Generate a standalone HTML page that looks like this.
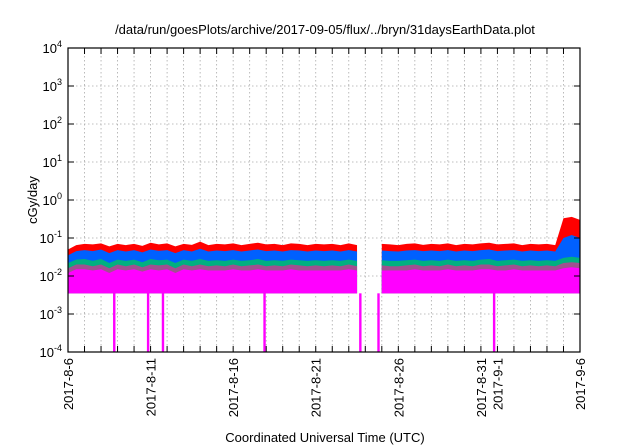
<!DOCTYPE html>
<html><head><meta charset="utf-8"><style>
body{margin:0;background:#fff}
svg{display:block;font-family:"Liberation Sans",sans-serif}
</style></head><body>
<svg id="chart" width="640" height="448" viewBox="0 0 640 448">
<g id="grid"></g>
<g id="series"></g>
<g id="axes"></g>
<text x="325" y="34" text-anchor="middle" font-size="13">/data/run/goesPlots/archive/2017-09-05/flux/../bryn/31daysEarthData.plot</text>
<text x="325" y="442" text-anchor="middle" font-size="13">Coordinated Universal Time (UTC)</text>
<text transform="translate(37,200) rotate(-90)" text-anchor="middle" font-size="13">cGy/day</text>
</svg>
<script>
// day offsets from 2017-8-6, step 0.5 day; null = data gap
const redTop = [0.05,0.065,0.07,0.068,0.072,0.06,0.07,0.065,0.07,0.062,0.075,0.068,0.072,0.06,0.07,0.066,0.08,0.065,0.07,0.068,0.072,0.065,0.07,0.075,0.068,0.07,0.065,0.072,0.07,0.065,0.07,0.068,0.07,0.065,0.072,0.065,null,null,0.07,0.068,0.065,0.07,0.072,0.066,0.07,0.068,0.072,0.065,0.07,0.068,0.072,0.075,0.068,0.07,0.072,0.065,0.07,0.068,0.07,0.065,0.33,0.36,0.3];
const blueTop = [0.035,0.045,0.048,0.045,0.05,0.04,0.048,0.044,0.048,0.042,0.05,0.046,0.048,0.04,0.048,0.044,0.052,0.044,0.047,0.045,0.048,0.044,0.047,0.05,0.045,0.047,0.044,0.048,0.047,0.044,0.047,0.045,0.047,0.044,0.048,0.044,null,null,0.047,0.045,0.044,0.047,0.048,0.045,0.047,0.045,0.048,0.044,0.047,0.045,0.048,0.05,0.045,0.047,0.048,0.044,0.047,0.045,0.047,0.044,0.1,0.12,0.1];
const greenTop = [0.022,0.027,0.028,0.025,0.028,0.022,0.027,0.025,0.027,0.023,0.028,0.026,0.027,0.022,0.027,0.025,0.028,0.025,0.026,0.025,0.027,0.025,0.026,0.028,0.025,0.026,0.025,0.027,0.026,0.025,0.026,0.025,0.026,0.025,0.027,0.025,null,null,0.026,0.025,0.025,0.026,0.027,0.025,0.026,0.025,0.027,0.025,0.026,0.025,0.027,0.028,0.025,0.026,0.027,0.025,0.026,0.025,0.026,0.025,0.03,0.032,0.03];
const purpleTop = [0.016,0.02,0.02,0.018,0.02,0.016,0.02,0.018,0.02,0.017,0.02,0.019,0.02,0.016,0.02,0.018,0.02,0.018,0.019,0.018,0.02,0.018,0.019,0.02,0.018,0.019,0.018,0.02,0.019,0.018,0.019,0.018,0.019,0.018,0.02,0.018,null,null,0.019,0.018,0.018,0.019,0.02,0.018,0.019,0.018,0.02,0.018,0.019,0.018,0.02,0.02,0.018,0.019,0.02,0.018,0.019,0.018,0.019,0.018,0.022,0.023,0.022];
const magentaTop = [0.012,0.015,0.015,0.014,0.015,0.012,0.015,0.014,0.015,0.013,0.015,0.014,0.015,0.012,0.015,0.014,0.015,0.014,0.014,0.014,0.015,0.014,0.014,0.015,0.014,0.014,0.014,0.015,0.014,0.014,0.014,0.014,0.014,0.014,0.015,0.014,null,null,0.014,0.014,0.014,0.014,0.015,0.014,0.014,0.014,0.015,0.014,0.014,0.014,0.015,0.015,0.014,0.014,0.015,0.014,0.014,0.014,0.014,0.014,0.016,0.017,0.016];
const magentaBottom = 0.0035;
const spikeDays = [2.8,4.85,5.75,11.9,17.7,18.8,25.8];
const xTickLabels = ["2017-8-6","2017-8-11","2017-8-16","2017-8-21","2017-8-26","2017-8-31","2017-9-1","2017-9-6"];
const xTickDays = [0,5,10,15,20,25,26,31];
const yExponents = [-4,-3,-2,-1,0,1,2,3,4];

const L=68,R=580,T=48,B=352,NS='http://www.w3.org/2000/svg';
const x=d=>L+d/31*(R-L);
const y=v=>B-(Math.log10(v)+4)/8*(B-T);
function el(tag,attrs,parent){const e=document.createElementNS(NS,tag);for(const k in attrs)e.setAttribute(k,attrs[k]);parent.appendChild(e);return e;}
const grid=document.getElementById('grid'),ser=document.getElementById('series'),ax=document.getElementById('axes');
for(let d=1;d<31;d++){const g=el('line',{x1:x(d),x2:x(d),y1:T,y2:B,stroke:'#aaa','stroke-width':0.8,'stroke-dasharray':'1.5,2.5'},grid);

}
yExponents.forEach(e=>{if(e>-4&&e<4){const g=el('line',{x1:L,x2:R,y1:y(Math.pow(10,e)),y2:y(Math.pow(10,e)),stroke:'#aaa','stroke-width':0.8,'stroke-dasharray':'1.5,2.5'},grid);

}});
// segments split by nulls
function segments(arr){const segs=[];let cur=[];arr.forEach((v,i)=>{if(v===null){if(cur.length)segs.push(cur);cur=[];}else cur.push([i*0.5,v]);});if(cur.length)segs.push(cur);return segs;}
function band(arr,color,name){segments(arr).forEach(s=>{let p=s.map(([d,v])=>x(d)+','+y(v)).join(' ');p+=' '+x(s[s.length-1][0])+','+y(magentaBottom)+' '+x(s[0][0])+','+y(magentaBottom);
const pg=el('polygon',{points:p,fill:color},ser);

});}
band(redTop,'#ff0000','series-red');
band(blueTop,'#0060ff','series-blue');
band(greenTop,'#00b080','series-green');
band(purpleTop,'#a05090','series-purple');
band(magentaTop,'#ff00ff','series-magenta');
spikeDays.forEach(d=>{const s=el('rect',{x:x(d)-1.2,y:y(magentaBottom),width:2.4,height:B-y(magentaBottom),fill:'#ff00ff'},ser);

});
const frame=el('rect',{x:L,y:T,width:R-L,height:B-T,fill:'none',stroke:'#000','stroke-width':1.2},ax);


for(let d=1;d<31;d++){el('line',{x1:x(d),x2:x(d),y1:B,y2:B-6,stroke:'#000'},ax);el('line',{x1:x(d),x2:x(d),y1:T,y2:T+6,stroke:'#000'},ax);}
yExponents.forEach(e=>{const yy=y(Math.pow(10,e));el('line',{x1:L,x2:L+6,y1:yy,y2:yy,stroke:'#000'},ax);el('line',{x1:R,x2:R-6,y1:yy,y2:yy,stroke:'#000'},ax);
const t=el('text',{x:L-6,y:yy+5,'text-anchor':'end','font-size':13},ax);


t.innerHTML='10<tspan dy="-6" font-size="9">'+e+'</tspan>';});
xTickLabels.forEach((lab,i)=>{const xx=x(xTickDays[i]);const t=el('text',{transform:'translate('+(xx+5)+','+(B+6)+') rotate(-90)','text-anchor':'end','font-size':13},ax);


t.textContent=lab;});
</script>
</body></html>
